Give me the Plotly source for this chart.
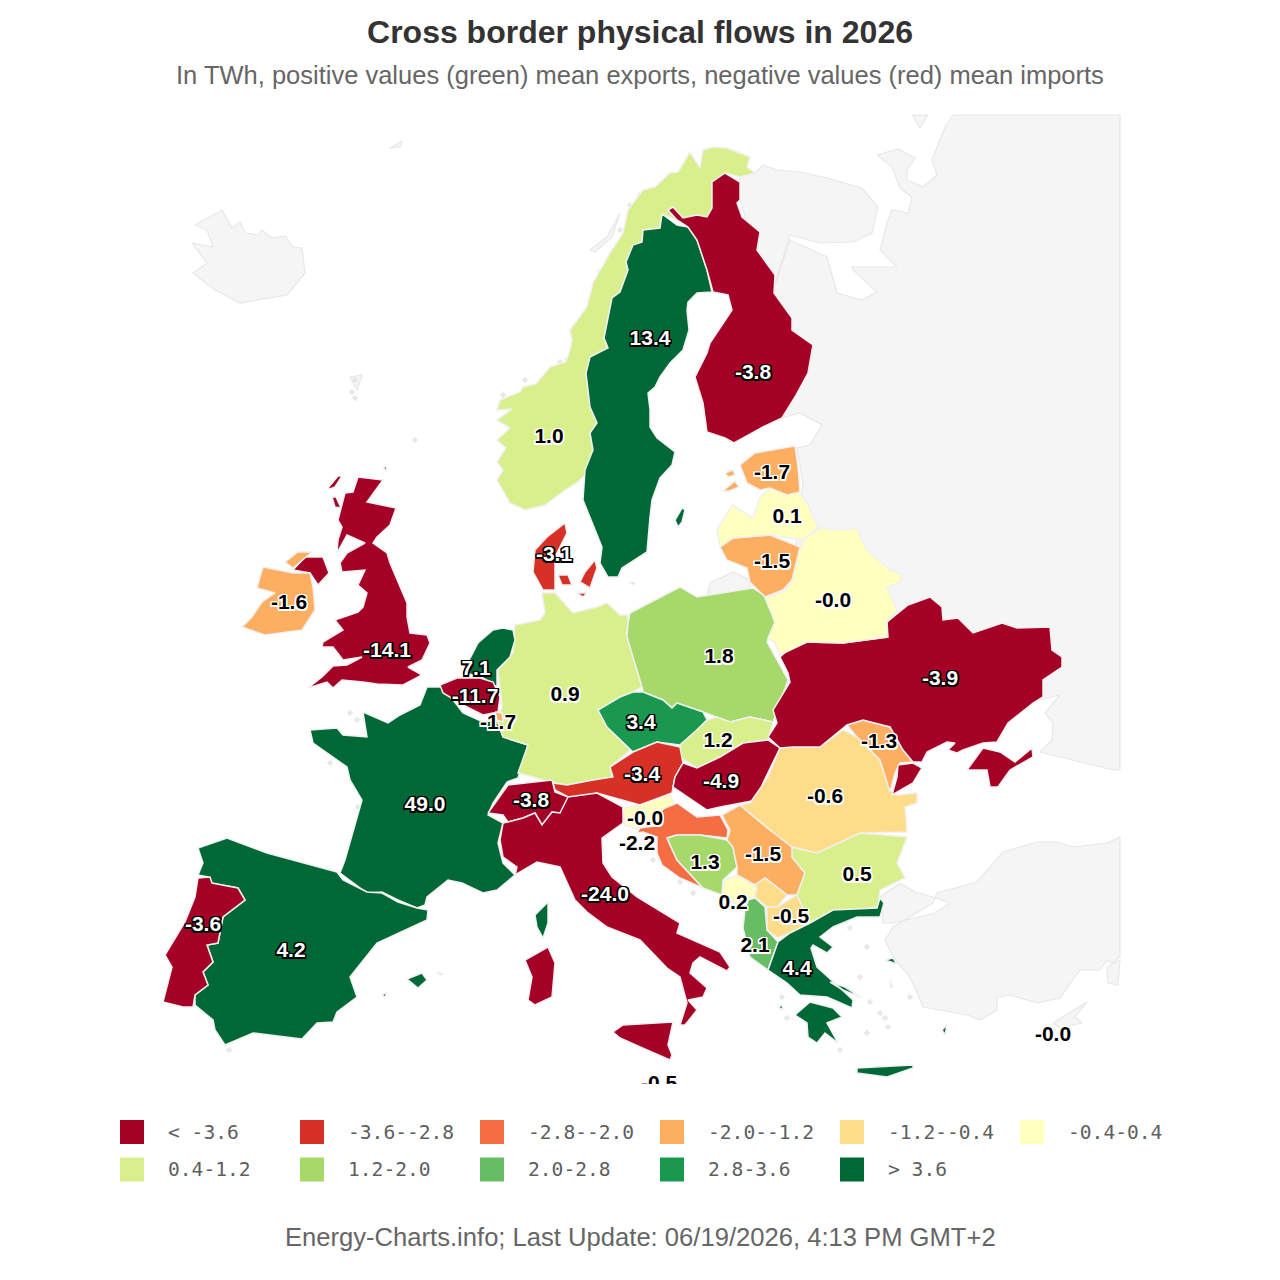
import plotly.graph_objects as go

# outlines, x/y in page pixels
NORWAY = [(727,148),(750,157),(747,167),(755,173),(740,177),(725,173),(712,182),(712,208),(707,217),(697,215),(683,218),(673,207),(668,210),(677,220),(662,214),(660,228),(643,230),(642,242),(633,245),(626,262),(628,270),(620,292),(612,298),(604,338),(608,348),(590,357),(586,373),(588,390),(590,407),(597,423),(590,433),(593,450),(590,470),(578,482),(565,490),(545,505),(525,510),(510,503),(497,480),(503,470),(497,462),(506,448),(497,440),(510,428),(497,420),(512,409),(497,410),(500,400),(520,392),(523,387),(536,384),(550,367),(566,362),(570,350),(572,340),(570,330),(587,307),(593,283),(610,253),(623,233),(628,210),(643,190),(655,187),(670,173),(678,172),(690,152),(700,168),(703,150),(713,147)]
SWEDEN = [(662,214),(677,225),(688,227),(697,240),(707,270),(712,292),(697,293),(688,302),(687,310),(689,330),(683,350),(670,363),(660,377),(655,387),(648,393),(650,410),(650,427),(657,438),(675,452),(672,465),(660,478),(652,500),(650,517),(647,552),(622,568),(618,577),(608,577),(600,563),(602,547),(593,525),(587,510),(583,500),(585,470),(593,450),(590,433),(597,423),(590,407),(588,390),(586,373),(590,357),(608,348),(604,338),(612,298),(620,292),(628,270),(626,262),(633,245),(642,242),(643,230),(660,228)]
GOTLAND = [(675,520),(682,508),(685,510),(682,522),(678,527)]
FINLAND = [(725,173),(740,182),(740,200),(737,203),(742,217),(760,232),(757,250),(775,275),(774,293),(792,318),(792,330),(813,345),(808,373),(795,397),(782,418),(763,427),(734,443),(725,438),(707,432),(703,403),(695,377),(707,353),(710,343),(728,315),(732,310),(728,295),(713,292),(707,270),(697,240),(688,227),(677,220),(668,210),(673,207),(683,218),(697,215),(707,217),(712,208),(712,182)]
GREAT_BRITAIN = [(358,477),(383,480),(367,502),(396,508),(390,525),(377,537),(373,543),(387,553),(390,563),(407,603),(407,617),(410,633),(427,635),(430,643),(422,660),(408,667),(422,675),(403,685),(377,684),(363,682),(342,680),(333,688),(327,682),(308,688),(322,677),(333,666),(347,665),(362,657),(343,660),(333,647),(322,647),(323,642),(343,630),(335,620),(358,612),(363,607),(367,593),(358,585),(365,570),(342,572),(340,563),(347,553),(365,543),(347,535),(337,553),(338,540),(342,527),(338,520),(345,493),(353,492)]
NORTHERN_IRELAND = [(293,570),(305,557),(323,557),(329,573),(318,585),(310,573)]
HEBRIDES = [(328,488),(338,476),(342,476),(335,487),(330,489)]
SKYE = [(332,497),(336,497),(341,508),(335,507)]
ORKNEY = [(383,467),(387,467),(386,471)]
IRELAND = [(263,567),(287,572),(293,573),(310,573),(313,587),(315,610),(302,630),(265,635),(242,627),(252,617),(262,602),(275,593),(257,588),(260,577)]
DONEGAL = [(285,562),(298,552),(312,552),(293,568)]
FRANCE = [(310,730),(337,728),(343,735),(367,737),(363,712),(388,723),(400,715),(420,705),(427,687),(443,687),(463,713),(483,722),(497,720),(503,737),(528,745),(518,778),(507,782),(493,803),(488,815),(503,823),(498,843),(503,863),(515,875),(497,890),(483,893),(462,883),(448,880),(427,897),(425,905),(417,908),(398,900),(382,892),(367,893),(340,873),(345,860),(353,833),(362,800),(350,780),(347,767),(323,750),(313,743)]
CORSICA = [(535,915),(548,902),(548,923),(543,938),(537,927)]
SPAIN = [(198,848),(227,838),(267,853),(303,863),(337,872),(343,880),(367,892),(382,893),(398,902),(417,908),(428,910),(427,920),(377,943),(350,977),(357,997),(337,1012),(333,1022),(317,1023),(302,1039),(253,1033),(225,1045),(215,1030),(213,1020),(195,1005),(195,995),(208,985),(203,972),(213,962),(207,945),(218,943),(223,917),(245,900),(238,888),(210,883),(208,877),(198,875),(203,863)]
MALLORCA = [(407,979),(422,973),(427,980),(418,988)]
IBIZA = [(382,995),(387,992),(385,997)]
MENORCA = [(437,972),(443,974),(440,975)]
PORTUGAL = [(198,878),(210,877),(212,883),(238,888),(245,900),(223,917),(218,943),(207,945),(213,962),(203,972),(208,985),(195,995),(193,1007),(183,1007),(163,1002),(172,967),(165,955),(185,922),(195,897)]
GERMANY = [(542,593),(555,593),(573,613),(597,607),(607,603),(620,615),(628,615),(627,637),(642,687),(633,692),(622,697),(598,710),(607,727),(630,750),(610,767),(613,777),(593,780),(567,785),(555,783),(518,773),(528,745),(503,737),(497,720),(502,707),(498,670),(513,653),(515,625),(540,620),(545,613)]
POLAND = [(630,613),(680,587),(697,597),(753,588),(767,597),(775,623),(767,642),(788,680),(773,722),(750,717),(730,722),(717,717),(703,712),(677,703),(672,708),(663,700),(643,692),(642,687),(627,637),(628,623)]
CZECHIA = [(598,710),(620,697),(633,692),(643,692),(663,700),(672,708),(677,703),(703,712),(707,720),(697,730),(680,745),(657,742),(633,752),(607,727)]
SLOVAKIA = [(707,720),(717,717),(730,722),(750,717),(773,722),(768,740),(743,743),(720,757),(697,768),(680,757),(680,745),(697,730)]
AUSTRIA = [(553,783),(567,785),(593,780),(613,777),(610,767),(633,752),(657,742),(680,747),(683,763),(675,777),(672,793),(640,805),(597,793),(570,798),(555,790)]
HUNGARY = [(683,763),(697,768),(720,757),(743,743),(768,740),(780,748),(763,783),(757,800),(720,807),(707,810),(673,787),(675,777)]
SWITZERLAND = [(488,813),(508,785),(552,780),(555,792),(568,797),(567,805),(560,813),(552,812),(542,825),(535,813),(523,818),(508,822),(503,815)]
ITALY = [(503,823),(508,822),(523,818),(535,813),(542,825),(552,812),(560,813),(568,797),(597,793),(623,807),(623,823),(602,838),(603,863),(612,877),(637,897),(680,923),(677,933),(720,952),(730,967),(727,971),(700,957),(693,963),(690,973),(707,988),(703,997),(688,1000),(697,1010),(685,1025),(680,1025),(687,1003),(680,977),(667,968),(640,940),(607,927),(587,912),(575,900),(560,867),(537,862),(515,875),(517,867),(503,857),(500,840)]
SICILY = [(613,1032),(623,1025),(673,1022),(668,1045),(672,1055),(670,1060),(647,1050),(620,1038)]
SARDINIA = [(525,960),(548,947),(555,963),(552,997),(535,1005),(528,1000),(532,977)]
SLOVENIA = [(623,808),(640,805),(670,795),(675,805),(660,812),(660,825),(640,830),(625,825)]
CROATIA = [(665,808),(677,803),(697,817),(720,815),(728,830),(727,838),(700,835),(677,835),(667,838),(677,860),(703,888),(680,878),(662,865),(657,853),(657,837),(643,832),(637,833),(640,828),(660,825),(660,812)]
BOSNIA = [(667,838),(677,835),(700,835),(727,840),(733,847),(737,867),(723,880),(722,895),(703,888),(677,860)]
SERBIA = [(722,815),(740,805),(770,830),(790,838),(795,848),(792,857),(805,873),(797,895),(787,895),(765,878),(755,885),(737,875),(737,867),(733,847),(727,840),(730,830)]
KOSOVO = [(765,878),(787,895),(777,907),(767,907),(755,897),(755,885)]
MONTENEGRO = [(725,880),(737,875),(757,887),(755,897),(748,900),(745,910),(722,895)]
ALBANIA = [(748,900),(755,898),(765,907),(767,930),(778,942),(768,970),(750,957),(743,928),(745,910)]
NORTH_MACEDONIA = [(767,907),(777,907),(797,895),(808,910),(812,923),(790,933),(778,938),(767,930)]
BULGARIA = [(792,847),(817,853),(860,833),(907,837),(897,863),(905,878),(880,890),(878,907),(853,910),(833,910),(810,923),(797,895),(805,873),(792,857)]
ROMANIA = [(780,748),(793,747),(820,747),(843,730),(857,737),(880,760),(890,790),(897,795),(917,793),(917,803),(905,807),(907,832),(860,833),(817,853),(792,847),(770,830),(740,805),(750,803),(757,793),(768,777)]
MOLDOVA = [(847,725),(863,720),(890,727),(903,750),(913,762),(900,763),(895,773),(890,792),(880,760),(857,737)]
UKRAINE = [(780,657),(790,648),(807,642),(843,643),(887,637),(887,622),(908,605),(930,597),(942,607),(943,620),(958,618),(973,633),(1002,623),(1017,628),(1050,627),(1052,650),(1062,657),(1062,667),(1043,680),(1043,697),(1033,703),(1008,723),(997,742),(983,743),(963,750),(957,753),(948,750),(955,743),(947,742),(927,752),(922,762),(913,762),(903,750),(890,727),(863,720),(847,725),(820,747),(793,747),(780,748),(768,737),(777,723),(773,710),(790,682),(788,673)]
BUDJAK = [(898,765),(913,763),(922,768),(913,783),(892,795),(897,777)]
CRIMEA = [(967,770),(983,748),(1000,752),(1015,762),(1032,748),(1033,757),(1010,770),(998,787),(990,787),(987,770)]
BELARUS = [(803,540),(820,528),(843,530),(857,528),(865,547),(887,568),(902,575),(900,583),(887,587),(897,610),(887,622),(888,637),(843,643),(807,642),(780,655),(775,643),(768,638),(775,622),(765,598),(783,592),(793,580),(795,553),(800,550)]
LITHUANIA = [(720,547),(733,538),(770,535),(800,547),(792,580),(783,590),(765,597),(750,582),(747,568),(727,560)]
LATVIA = [(717,530),(732,505),(753,518),(760,497),(770,488),(800,493),(807,503),(818,527),(803,540),(770,535),(733,538),(720,547)]
ESTONIA = [(740,465),(755,453),(795,446),(798,467),(800,492),(787,495),(770,488),(760,490),(747,483)]
SAAREMAA = [(723,491),(735,481),(739,487),(729,491)]
HIIUMAA = [(725,473),(733,470),(735,475),(728,477)]
NETHERLANDS = [(493,630),(503,628),(513,630),(515,640),(510,657),(497,670),(497,687),(483,678),(463,672),(478,643)]
BELGIUM = [(440,685),(457,678),(480,678),(493,682),(500,697),(498,712),(483,715),(463,705),(443,693)]
LUXEMBOURG = [(495,712),(502,713),(503,722),(497,720)]
JUTLAND = [(565,523),(567,533),(555,557),(555,590),(543,590),(533,572),(535,550),(547,537)]
ZEALAND = [(585,572),(595,560),(597,568),(590,588),(580,582)]
FUNEN = [(558,575),(568,575),(572,585),(562,585)]
LOLLAND = [(577,593),(587,593),(583,597)]
BORNHOLM = [(630,582),(635,583),(633,585)]
GREECE = [(778,942),(790,933),(810,923),(833,910),(877,908),(880,898),(884,903),(880,917),(857,917),(833,927),(820,937),(833,947),(827,953),(813,945),(811,948),(817,967),(828,977),(853,1000),(852,1008),(827,997),(800,995),(787,983),(768,970)]
PELOPONNESE = [(795,1015),(810,1002),(833,1008),(842,1017),(827,1023),(838,1043),(825,1033),(817,1043),(808,1037),(807,1023)]
CRETE = [(857,1068),(913,1065),(913,1068),(887,1077),(857,1073)]
EUBOEA = [(830,982),(845,987),(862,998),(843,990)]
LESVOS = [(885,960),(893,958),(897,964)]
CHIOS = [(890,980),(893,987),(891,987)]
RHODES = [(942,1030),(947,1025),(945,1035)]
KEFALONIA = [(778,1007),(782,1005),(783,1010)]
CYPRUS_SOUTH = [(1050,1030),(1056,1030),(1053,1026)]
MALTA = [(657,1082),(661,1082),(659,1079)]

# countries without data, light grey
RUSSIA = [(1120,115),(1120,770),(1113,770),(1040,752),(1052,740),(1053,723),(1045,713),(1060,695),(1040,700),(950,720),(800,700),(790,600),(803,483),(797,448),(810,445),(822,425),(800,413),(782,418),(770,300),(790,240),(827,257),(837,293),(862,300),(877,292),(853,270),(852,267),(897,267),(880,250),(887,223),(892,210),(908,213),(912,197),(900,188),(892,167),(877,155),(898,149),(915,158),(907,170),(907,180),(923,187),(937,175),(932,160),(945,127),(953,115)]
KOLA = [(755,173),(763,165),(777,170),(800,172),(827,178),(862,188),(878,207),(872,233),(853,242),(820,243),(790,235),(770,300),(740,200),(740,177)]
KOLGUEV = [(912,115),(928,115),(920,128)]
TURKEY = [(1120,837),(1107,843),(1073,847),(1057,842),(1037,842),(1003,852),(977,882),(937,893),(933,903),(893,927),(885,940),(893,957),(910,977),(923,1007),(967,1015),(980,1020),(997,1010),(997,997),(1010,995),(1037,1003),(1060,998),(1080,970),(1100,970),(1107,960),(1112,963),(1120,957)]
HATAY = [(1107,967),(1108,983),(1118,985),(1120,960)]
THRACE = [(880,897),(900,883),(915,892),(933,897),(950,903),(935,913),(893,923),(883,923),(882,907)]
CYPRUS_NORTH = [(1053,1023),(1087,1002),(1075,1017),(1082,1023),(1060,1028)]
ICELAND = [(195,225),(210,217),(222,210),(232,228),(240,222),(245,233),(258,235),(262,230),(272,238),(285,236),(293,247),(302,248),(305,273),(287,295),(240,303),(215,290),(193,273),(207,263),(192,243),(213,247),(207,230)]
FAROE = [(350,377),(362,375),(357,390)]
SVALBARD_BIT = [(390,148),(402,141),(400,147)]
KALININGRAD = [(710,583),(733,572),(750,580),(750,588),(707,597)]
LOFOTEN = [(590,250),(607,237),(620,213),(612,237),(595,252)]
GREY_LAND = [RUSSIA, KOLA, KOLGUEV, TURKEY, HATAY, THRACE, CYPRUS_NORTH, ICELAND, FAROE, SVALBARD_BIT, KALININGRAD, LOFOTEN]

# small grey islets around the coasts
ISLET_X = [560, 575, 567, 590, 600, 503, 525, 505, 505, 500, 355, 680, 693, 653, 850, 867, 860, 870, 880, 867, 888, 910, 840, 885, 782, 787, 330, 358, 362, 350, 357, 229, 352, 355, 415, 640, 645, 630, 620]
ISLET_Y = [362, 340, 360, 300, 272, 395, 380, 420, 460, 480, 380, 882, 893, 860, 928, 947, 977, 1002, 1013, 1033, 1027, 997, 1050, 1018, 997, 1018, 763, 807, 818, 713, 720, 1050, 392, 398, 440, 195, 200, 205, 230]

COUNTRIES = ["Norway", "Sweden", "Finland", "United Kingdom", "Ireland", "France", "Spain", "Portugal",
             "Germany", "Poland", "Czechia", "Slovakia", "Austria", "Hungary", "Switzerland", "Italy",
             "Slovenia", "Croatia", "Bosnia", "Serbia", "Kosovo", "Montenegro", "Albania", "North Macedonia",
             "Bulgaria", "Romania", "Moldova", "Ukraine", "Belarus", "Lithuania", "Latvia", "Estonia",
             "Netherlands", "Belgium", "Luxembourg", "Denmark", "Greece", "Cyprus", "Malta"]
FLOWS = [1.0, 13.4, -3.8, -14.1, -1.6, 49.0, 4.2, -3.6,
         0.9, 1.8, 3.4, 1.2, -3.4, -4.9, -3.8, -24.0,
         -0.0, -2.2, 1.3, -1.5, -0.5, 0.2, 2.1, -0.5,
         0.5, -0.6, -1.3, -3.9, -0.0, -1.5, 0.1, -1.7,
         7.1, -11.7, -1.7, -3.1, 4.4, -0.0, -0.5]
LABEL_X = [549, 650, 753, 387, 289, 425, 291, 203,
           565, 719, 641, 718, 642, 721, 531, 605,
           645, 637, 705, 763, None, 733, 755, 791,
           857, 825, 879, 940, 833, 772, 787, 772,
           476, 475, 498, 554, 797, 1053, 659]
LABEL_Y = [438, 340, 374, 652, 604, 806, 952, 926,
           696, 658, 724, 742, 776, 783, 802, 896,
           820, 845, 864, 856, None, 904, 947, 918,
           876, 798, 743, 680, 602, 563, 518, 474,
           670, 698, 724, 556, 970, 1036, 1085]
OUTLINES = [[NORWAY], [SWEDEN, GOTLAND], [FINLAND], [GREAT_BRITAIN, NORTHERN_IRELAND, HEBRIDES, SKYE, ORKNEY],
            [IRELAND, DONEGAL], [FRANCE, CORSICA], [SPAIN, MALLORCA, IBIZA, MENORCA], [PORTUGAL],
            [GERMANY], [POLAND], [CZECHIA], [SLOVAKIA], [AUSTRIA], [HUNGARY], [SWITZERLAND], [ITALY, SICILY, SARDINIA],
            [SLOVENIA], [CROATIA], [BOSNIA], [SERBIA], [KOSOVO], [MONTENEGRO], [ALBANIA], [NORTH_MACEDONIA],
            [BULGARIA], [ROMANIA], [MOLDOVA], [UKRAINE, BUDJAK, CRIMEA], [BELARUS], [LITHUANIA], [LATVIA], [ESTONIA, SAAREMAA, HIIUMAA],
            [NETHERLANDS], [BELGIUM], [LUXEMBOURG], [JUTLAND, ZEALAND, FUNEN, LOLLAND, BORNHOLM],
            [GREECE, PELOPONNESE, CRETE, EUBOEA, LESVOS, CHIOS, RHODES, KEFALONIA], [CYPRUS_SOUTH], [MALTA]]

BIN_EDGES = [-3.6, -2.8, -2.0, -1.2, -0.4, 0.4, 1.2, 2.0, 2.8, 3.6]
BIN_COLORS = ["#a50026", "#d73027", "#f46d43", "#fdae61", "#fedc8a", "#ffffbf",
              "#d9ef8b", "#a6d96a", "#66bd63", "#1a9850", "#006837"]
BIN_LABELS = ["< -3.6", "-3.6--2.8", "-2.8--2.0", "-2.0--1.2", "-1.2--0.4", "-0.4-0.4",
              "0.4-1.2", "1.2-2.0", "2.0-2.8", "2.8-3.6", "> 3.6"]


def bin_index(value):
    for i, edge in enumerate(BIN_EDGES):
        if value <= edge:
            return i
    return len(BIN_EDGES)


def join_parts(parts):
    xs, ys = [], []
    for part in parts:
        xs += [p[0] for p in part] + [part[0][0], None]
        ys += [p[1] for p in part] + [part[0][1], None]
    return xs, ys


def halo(color):
    steps = [(-1.5, -1.5), (0, -1.5), (1.5, -1.5), (-1.5, 0), (1.5, 0), (-1.5, 1.5), (0, 1.5), (1.5, 1.5)]
    return ", ".join(f"{a}px {b}px 0.5px {color}" for a, b in steps)


fig = go.Figure()

xs, ys = join_parts(GREY_LAND)
fig.add_trace(go.Scatter(x=xs, y=ys, mode="lines", fill="toself", fillcolor="#f5f5f5",
                         line=dict(color="#e8e8e8", width=1.2), hoverinfo="skip", showlegend=False))
fig.add_trace(go.Scatter(x=ISLET_X, y=ISLET_Y, mode="markers", hoverinfo="skip", showlegend=False,
                         marker=dict(symbol="diamond", size=5, color="#e8e8e8", line=dict(width=0))))

for name, value, parts in zip(COUNTRIES, FLOWS, OUTLINES):
    xs, ys = join_parts(parts)
    fig.add_trace(go.Scatter(x=xs, y=ys, mode="lines", fill="toself", name=name,
                             fillcolor=BIN_COLORS[bin_index(value)],
                             line=dict(color="#f0f0f0", width=1.5), showlegend=False))

# value labels, white ones on the dark classes
for light in (True, False):
    picked = [i for i, v in enumerate(FLOWS) if LABEL_X[i] is not None and (abs(v) >= 2.8) == light]
    fig.add_trace(go.Scatter(x=[LABEL_X[i] for i in picked], y=[LABEL_Y[i] for i in picked],
                             text=[f"{FLOWS[i]:.1f}" for i in picked], mode="text",
                             textposition="middle center", hoverinfo="skip", showlegend=False,
                             textfont=dict(family="Liberation Sans", size=21, weight="bold",
                                           color="#ffffff" if light else "#000000",
                                           shadow=halo("#000000" if light else "#ffffff"))))

# legend grid, 6 columns
legend_x = [132 + 180 * (i % 6) for i in range(len(BIN_LABELS))]
legend_y = [1132 + 37.5 * (i // 6) for i in range(len(BIN_LABELS))]
fig.add_trace(go.Scatter(x=legend_x, y=legend_y, mode="markers", xaxis="x2", yaxis="y2",
                         marker=dict(symbol="square", size=24, color=BIN_COLORS, line=dict(width=0)),
                         hoverinfo="skip", showlegend=False))
fig.add_trace(go.Scatter(x=[v + 36 for v in legend_x], y=[v + 2 for v in legend_y], mode="text", text=BIN_LABELS,
                         textposition="middle right", xaxis="x2", yaxis="y2", hoverinfo="skip", showlegend=False,
                         textfont=dict(family="DejaVu Sans Mono", size=19.6, color="#5f5f5f")))

fig.update_layout(
    width=1280, height=1280, margin=dict(l=0, r=0, t=0, b=0),
    paper_bgcolor="#ffffff", plot_bgcolor="rgba(0,0,0,0)",
    title=dict(text="<b>Cross border physical flows in 2026</b>", x=0.5, xanchor="center",
               y=1 - 32 / 1280, yanchor="middle",
               font=dict(family="Liberation Sans", size=32, color="#333333")),
    xaxis=dict(domain=[0, 1122 / 1280], range=[0, 1122], visible=False),
    yaxis=dict(domain=[1 - 1084 / 1280, 1 - 112 / 1280], range=[1084, 112], visible=False),
    xaxis2=dict(domain=[0, 1], range=[0, 1280], visible=False, anchor="y2"),
    yaxis2=dict(domain=[0, 1], range=[1280, 0], visible=False, anchor="x2"),
    annotations=[
        dict(text="In TWh, positive values (green) mean exports, negative values (red) mean imports",
             xref="x2", yref="y2", x=640, y=75, showarrow=False,
             font=dict(family="Liberation Sans", size=25.5, color="#666666")),
        dict(text="Energy-Charts.info; Last Update: 06/19/2026, 4:13 PM GMT+2",
             xref="x2", yref="y2", x=640, y=1237, showarrow=False,
             font=dict(family="Liberation Sans", size=25.6, color="#666666")),
    ],
)

fig.write_html("out.html", config=dict(displayModeBar=False),
               post_script="document.body.style.margin='0';")
